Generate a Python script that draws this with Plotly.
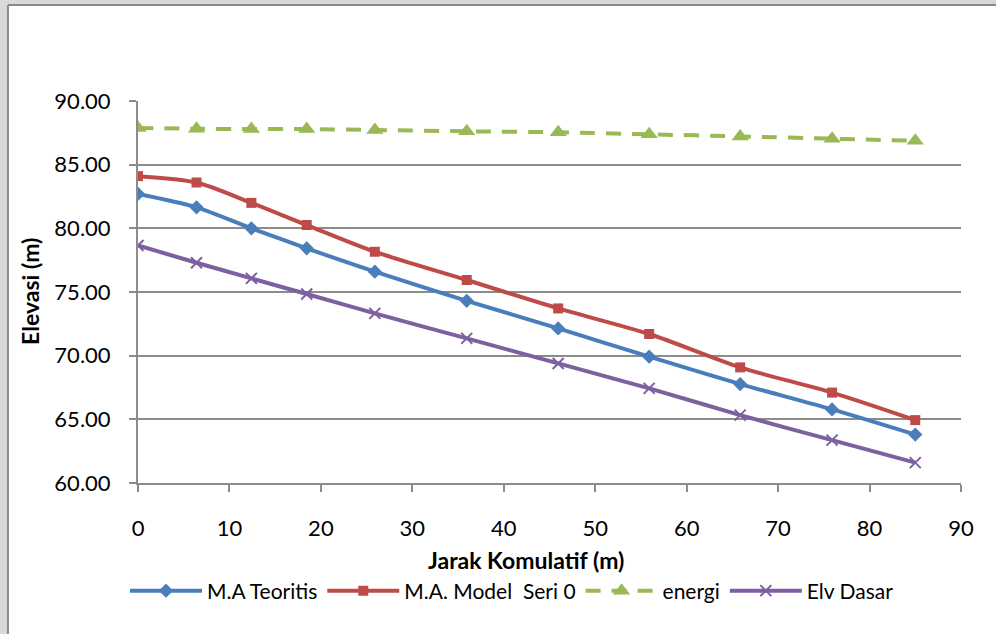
import plotly.graph_objects as go

# Data
jarak = [0, 6.4, 12.4, 18.45, 25.9, 35.95, 45.95, 55.9, 65.85, 75.9, 85.0]
ma_teoritis = [82.7, 81.65, 80.0, 78.43, 76.6, 74.31, 72.14, 69.92, 67.77, 65.78, 63.8]
ma_model = [84.1, 83.6, 82.0, 80.26, 78.16, 75.94, 73.71, 71.7, 69.08, 67.1, 64.94]
energi = [87.88, 87.82, 87.8, 87.8, 87.72, 87.62, 87.54, 87.38, 87.22, 87.04, 86.88]
elv_dasar = [78.65, 77.3, 76.07, 74.84, 73.32, 71.36, 69.39, 67.43, 65.33, 63.37, 61.6]

x_ticks = [0, 10, 20, 30, 40, 50, 60, 70, 80, 90]
y_ticks = [60, 65, 70, 75, 80, 85, 90]

FONT = "Lato"
GRID = "#8c8c8c"

fig = go.Figure()
fig.add_trace(go.Scatter(
    x=jarak, y=ma_teoritis, name="M.A Teoritis", mode="lines+markers",
    line=dict(color="#4A7EBB", width=4, shape="spline", smoothing=0.8),
    marker=dict(symbol="diamond", size=11, color="#4A7EBB")))
fig.add_trace(go.Scatter(
    x=jarak, y=ma_model, name="M.A. Model  Seri 0", mode="lines+markers",
    line=dict(color="#BE4B48", width=4, shape="spline", smoothing=0.8),
    marker=dict(symbol="square", size=10, color="#BE4B48")))
fig.add_trace(go.Scatter(
    x=jarak, y=energi, name="energi", mode="lines+markers",
    line=dict(color="#98B954", width=4, dash="15px,11px", shape="spline", smoothing=0.8),
    marker=dict(symbol="triangle-up", size=15, color="#98B954")))
fig.add_trace(go.Scatter(
    x=jarak, y=elv_dasar, name="Elv Dasar", mode="lines+markers",
    line=dict(color="#7D60A0", width=4, shape="spline", smoothing=0.8),
    marker=dict(symbol="x-thin", size=11, color="#7D60A0",
                line=dict(color="#7D60A0", width=2))))

# frame: gray page band on top/left with border
shapes = [
    dict(type="rect", xref="paper", yref="paper", x0=-0.2, x1=-0.158, y0=-0.5, y1=1.4,
         fillcolor="#d9d9d9", line=dict(width=0), layer="below"),
    dict(type="rect", xref="paper", yref="paper", x0=-0.2, x1=1.1, y0=1.2513, y1=1.4,
         fillcolor="#d9d9d9", line=dict(width=0), layer="below"),
    dict(type="line", xref="paper", yref="paper", x0=-0.158, x1=-0.158, y0=-0.5, y1=1.2513,
         line=dict(color="#8a8a8a", width=2)),
    dict(type="line", xref="paper", yref="paper", x0=-0.158, x1=1.1, y0=1.2513, y1=1.2513,
         line=dict(color="#8a8a8a", width=2)),
]

annotations = [
    dict(text="<b>Jarak Komulatif (m)</b>", xref="paper", yref="paper",
         x=(526 - 138) / 823, y=(483 - 560) / 382, showarrow=False,
         xanchor="center", yanchor="middle", font=dict(family=FONT, size=23, color="black")),
    dict(text="<b>Elevasi (m)</b>", xref="paper", yref="paper",
         x=(30 - 138) / 823, y=0.5, showarrow=False, textangle=-90,
         xanchor="center", yanchor="middle", font=dict(family=FONT, size=23, color="black")),
]

fig.update_layout(
    width=996, height=634,
    margin=dict(l=138, r=35, t=101, b=151),
    paper_bgcolor="white", plot_bgcolor="white",
    font=dict(family=FONT, size=22, color="black"),
    showlegend=True,
    legend=dict(orientation="h", x=(512 - 138) / 823, y=(483 - 591) / 382,
                xanchor="center", yanchor="middle",
                font=dict(family=FONT, size=21, color="black"),
                itemwidth=72, bgcolor="rgba(0,0,0,0)"),
    shapes=shapes,
    annotations=annotations,
)

fig.update_xaxes(
    range=[0, 90], tickvals=x_ticks, ticktext=[str(v) for v in x_ticks],
    showgrid=False, zeroline=False,
    showline=True, linecolor=GRID, linewidth=2,
    ticks="outside", ticklen=7, tickcolor=GRID, tickwidth=2,
    ticklabelstandoff=18,
    tickfont=dict(family=FONT, size=22, color="black"),
)
fig.update_yaxes(
    range=[60, 90], tickvals=y_ticks, ticktext=[f"{v:.2f}" for v in y_ticks],
    showgrid=True, gridcolor=GRID, gridwidth=2, zeroline=False,
    showline=True, linecolor=GRID, linewidth=2,
    ticks="outside", ticklen=7, tickcolor=GRID, tickwidth=2,
    ticklabelstandoff=14,
    tickfont=dict(family=FONT, size=22, color="black"),
)

fig.write_html("out.html")
